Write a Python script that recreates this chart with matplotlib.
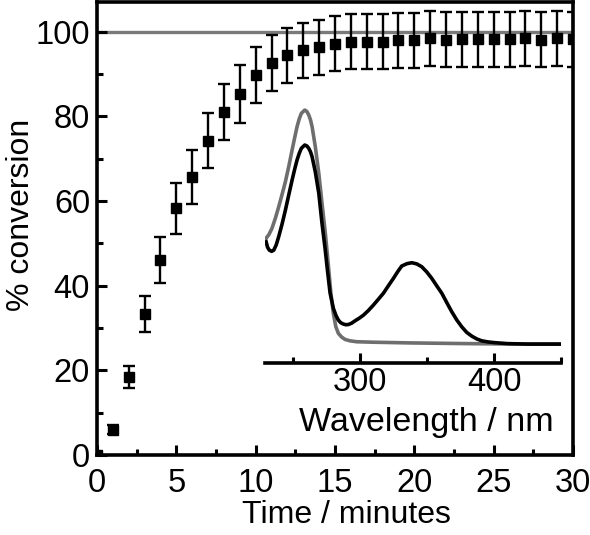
import matplotlib
matplotlib.use("Agg")
import matplotlib.pyplot as plt
from matplotlib.ticker import MultipleLocator

plt.rcParams['font.family'] = ['Liberation Sans', 'DejaVu Sans']

# conversion vs time
time_min = [0, 1, 2, 3, 4, 5, 6, 7, 8, 9, 10, 11, 12, 13, 14, 15, 16, 17, 18, 19,
            20, 21, 22, 23, 24, 25, 26, 27, 28, 29, 30]
conversion = [0, 6.0, 18.5, 33.3, 46.0, 58.3, 65.7, 74.2, 81.0, 85.3, 89.8, 92.6,
              94.4, 95.6, 96.3, 97.1, 97.6, 97.6, 97.6, 98.0, 98.0, 98.4, 98.1,
              98.2, 98.2, 98.2, 98.2, 98.4, 98.1, 98.4, 98.2]
conv_err = [0, 1.0, 2.6, 4.3, 5.4, 6.0, 6.3, 6.5, 6.7, 6.8, 6.6, 6.6, 6.5, 6.5,
            6.5, 6.5, 6.5, 6.5, 6.5, 6.5, 6.5, 6.5, 6.5, 6.5, 6.5, 6.5, 6.5, 6.5,
            6.5, 6.5, 6.5]

# inset spectra (arbitrary absorbance)
wl_grey = [229.9, 232.0, 234.3, 236.8, 239.3, 241.8, 244.3, 246.8, 249.3, 251.2,
           253.0, 254.6, 256.2, 258.7, 260.3, 261.7, 263.0, 264.2, 266.6, 269.2,
           271.6, 274.1, 276.3, 278.2, 280.1, 281.9, 283.8, 286.3, 288.8, 292.5,
           297.5, 310, 337.3, 380, 420, 449]
abs_grey = [0.454, 0.47, 0.497, 0.54, 0.589, 0.642, 0.697, 0.762, 0.833, 0.885,
            0.933, 0.966, 0.990, 1.004, 0.998, 0.983, 0.962, 0.933, 0.847, 0.733,
            0.604, 0.475, 0.34, 0.22, 0.13, 0.075, 0.046, 0.03, 0.02, 0.014,
            0.01, 0.008, 0.005, 0.002, 0.0, 0.0]
wl_black = [229.9, 231.0, 232.3, 234.0, 235.6, 237.4, 239.3, 241.8, 244.3, 246.8,
            249.3, 251.2, 253.0, 254.6, 256.2, 258.7, 260.3, 261.7, 263.0, 264.2,
            266.6, 269.2, 271.6, 273.9, 275.6, 277.6, 280.1, 282.0, 283.8, 285.5,
            287.5, 289.5, 291.3, 293.8, 296.3, 299.4, 302.5, 306.2, 309.9, 313.6,
            317.4, 321.1, 324.9, 328.0, 331.1, 335.0, 338.6, 342.3, 346.0, 349.7,
            353.5, 357.2, 361.0, 364.7, 368.4, 372.1, 375.9, 379.6, 383.4, 387.1,
            390.8, 395.7, 400.7, 410.0, 425.0, 450.5]
abs_black = [0.439, 0.415, 0.403, 0.398, 0.403, 0.425, 0.461, 0.515, 0.575, 0.64,
             0.704, 0.75, 0.790, 0.818, 0.840, 0.854, 0.850, 0.840, 0.825, 0.804,
             0.739, 0.647, 0.518, 0.41, 0.32, 0.22, 0.153, 0.123, 0.103, 0.092,
             0.086, 0.083, 0.084, 0.09, 0.1, 0.111, 0.124, 0.144, 0.167, 0.192,
             0.218, 0.25, 0.282, 0.31, 0.335, 0.345, 0.349, 0.344, 0.332, 0.31,
             0.282, 0.25, 0.218, 0.178, 0.139, 0.104, 0.074, 0.05, 0.034, 0.022,
             0.014, 0.009, 0.006, 0.002, 0.0, 0.0]

fig = plt.figure(figsize=(5.9, 5.35), dpi=100)
ax = fig.add_axes([0.1644, 0.1495, 0.8068, 0.8467])

ax.axhline(100, color='#7a7a7a', lw=2.4, zorder=1)
ax.errorbar(time_min, conversion, yerr=conv_err, fmt='s', color='black',
            ms=7.5, elinewidth=1.7, capsize=4, capthick=1.7, zorder=3)

ax.set_xlim(0, 30)
ax.set_ylim(0, 107)
ax.xaxis.set_major_locator(MultipleLocator(5))
ax.xaxis.set_minor_locator(MultipleLocator(2.5))
ax.yaxis.set_major_locator(MultipleLocator(20))
ax.yaxis.set_minor_locator(MultipleLocator(10))
ax.tick_params(which='both', direction='in', width=2.2, labelsize=23.5)
ax.tick_params(which='major', length=7, pad=5)
ax.tick_params(axis='x', which='major', pad=9)
ax.tick_params(which='minor', length=4)
for s in ax.spines.values():
    s.set_linewidth(2.6)
ax.set_xlabel('Time / minutes', fontsize=23)
ax.xaxis.set_label_coords(0.525, -0.099)
ax.set_ylabel('% conversion', fontsize=23)
ax.yaxis.set_label_coords(-0.128, 0.53)

# inset
ins = fig.add_axes([0.449, 0.322, 0.502, 0.491])
ins.plot(wl_grey, abs_grey, color='#6e6e6e', lw=2.6, solid_joinstyle='round')
ins.plot(wl_black, abs_black, color='black', lw=2.6, solid_joinstyle='round')
ins.set_xlim(229, 450)
ins.set_ylim(-0.08, 1.047)
ins.patch.set_alpha(0)
for k in ['top', 'left', 'right']:
    ins.spines[k].set_visible(False)
ins.spines['bottom'].set_linewidth(2.6)
ins.set_yticks([])
ins.xaxis.set_major_locator(MultipleLocator(100))
ins.xaxis.set_minor_locator(MultipleLocator(50))
ins.tick_params(which='both', direction='in', width=2.2, labelsize=23.5)
ins.tick_params(which='major', length=7, pad=3)
ins.tick_params(which='minor', length=4)
ins.set_xlabel('Wavelength / nm', fontsize=24.5)
ins.xaxis.set_label_coords(0.544, -0.168)

fig.savefig('out.png', dpi=100)
